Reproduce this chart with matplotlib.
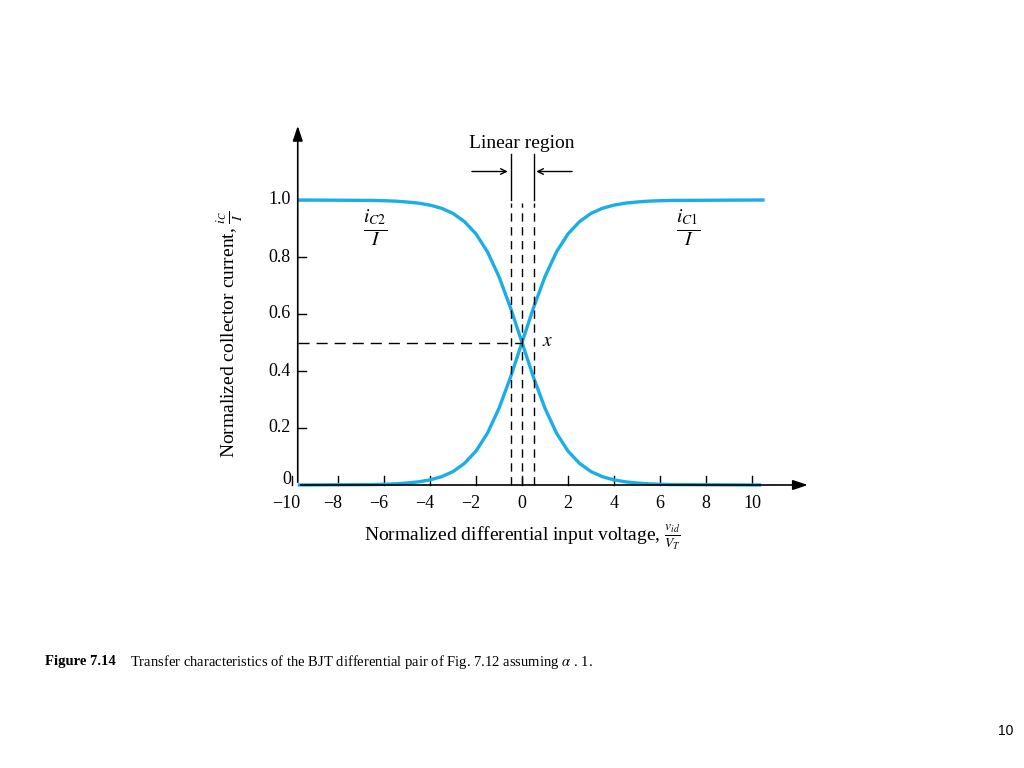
import matplotlib
matplotlib.use("Agg")
import matplotlib.pyplot as plt

plt.rcParams['font.family'] = ['Liberation Serif', 'DejaVu Serif']
plt.rcParams['mathtext.fontset'] = 'stix'

# data
vid = [-9.75, -6.5, -6.0, -5.5, -5.0, -4.5, -4.0, -3.5, -3.0, -2.5, -2.0, -1.5, -1.0, -0.5,
       0.0, 0.5, 1.0, 1.5, 2.0, 2.5, 3.0, 3.5, 4.0, 4.5, 5.0, 5.5, 6.0, 6.5]
ic1 = [0.0, 0.0015, 0.0025, 0.004, 0.007, 0.011, 0.018, 0.029, 0.047, 0.076, 0.119, 0.182, 0.269, 0.378,
       0.5, 0.622, 0.731, 0.818, 0.881, 0.924, 0.953, 0.971, 0.982, 0.989, 0.993, 0.996, 0.9975, 0.9985]
ic2 = [1.0, 0.9985, 0.9975, 0.996, 0.993, 0.989, 0.982, 0.971, 0.953, 0.924, 0.881, 0.818, 0.731, 0.622,
       0.5, 0.378, 0.269, 0.182, 0.119, 0.076, 0.047, 0.029, 0.018, 0.011, 0.007, 0.004, 0.0025, 0.0015]
ic1_end = (10.55, 1.0)
ic2_end = (10.4, 0.0)
xticks = [-10, -8, -6, -4, -2, 0, 2, 4, 6, 8, 10]
yticks = [0.2, 0.4, 0.6, 0.8, 1.0]
ytick_labels = ['0.2', '0.4', '0.6', '0.8', '1.0']
linear_edges = [-0.5, 0.0, 0.5]

fig = plt.figure(figsize=(10.24, 7.68), dpi=100)
ax = fig.add_axes([0, 0, 1, 1])
ax.set_xlim(-522/23, 502/23)
ax.set_ylim((485-768)/285, 485/285)
ax.axis('off')

blue = '#1aaee8'
k = 'black'
yax = -9.75
# axes with arrows
ax.annotate('', xy=(yax, 1.27), xytext=(yax, 0), arrowprops=dict(arrowstyle='-|>,head_width=0.3,head_length=0.9', color=k, lw=1.2))
ax.annotate('', xy=(12.55, 0), xytext=(yax, 0), arrowprops=dict(arrowstyle='-|>,head_width=0.3,head_length=0.9', color=k, lw=1.2))
for t in xticks:
    ax.plot([t, t], [0, 0.03], color=k, lw=1)
    ax.text(t - (0.25 if t < 0 else 0), -0.035, ('\u2212%d' % -t) if t < 0 else str(t), ha='center', va='top', fontsize=13)
for t, l in zip(yticks, ytick_labels):
    ax.plot([yax, yax + 0.35], [t, t], color=k, lw=1)
    ax.text(yax - 0.3, t, l, ha='right', va='center', fontsize=13)
ax.text(yax - 0.3, 0.02, '0', ha='right', va='center', fontsize=13)

# curves
ax.plot(vid + [ic1_end[0]], ic1 + [ic1_end[1]], color=blue, lw=2.4, solid_capstyle='butt')
ax.plot(vid + [ic2_end[0]], ic2 + [ic2_end[1]], color=blue, lw=2.4, solid_capstyle='butt')

# dashed lines
for e in linear_edges:
    ax.plot([e, e], [0, 0.99], color=k, lw=1, dashes=(6, 4))
for e in (linear_edges[0], linear_edges[-1]):
    ax.plot([e, e], [1.0, 1.16], color=k, lw=1)
ax.plot([yax, 0], [0.5, 0.5], color=k, lw=1, dashes=(8, 5))
ax.annotate('', xy=(-0.5, 1.1), xytext=(-2.3, 1.1), arrowprops=dict(arrowstyle='->', color=k, lw=1))
ax.annotate('', xy=(0.5, 1.1), xytext=(2.3, 1.1), arrowprops=dict(arrowstyle='->', color=k, lw=1))
ax.text(0.0, 1.2, 'Linear region', ha='center', va='center', fontsize=14)
ax.text(0.85, 0.505, '$x$', ha='left', va='center', fontsize=14)

ax.text(-6.4, 0.9, r'$\frac{i_{C2}}{I}$', ha='center', va='center', fontsize=20)
ax.text(7.2, 0.9, r'$\frac{i_{C1}}{I}$', ha='center', va='center', fontsize=20)
ax.text(-12.7, 0.53, r'Normalized collector current, $\frac{i_C}{I}$', rotation=90, ha='center', va='center', fontsize=14)
ax.text(0.0, -0.185, r'Normalized differential input voltage, $\frac{v_{id}}{V_T}$', ha='center', va='center', fontsize=14)

fig.text(45/1024, 1-662/768, 'Figure 7.14', fontweight='bold', fontsize=10.5, va='center')
fig.text(130/1024, 1-662/768, r'Transfer characteristics of the BJT differential pair of Fig. 7.12 assuming $\alpha$ . 1.', fontsize=10.5, va='center')
fig.text(1013/1024, 1-731/768, '10', fontsize=10, ha='right', va='center', family='Liberation Sans')

fig.savefig('out.png', dpi=100)
